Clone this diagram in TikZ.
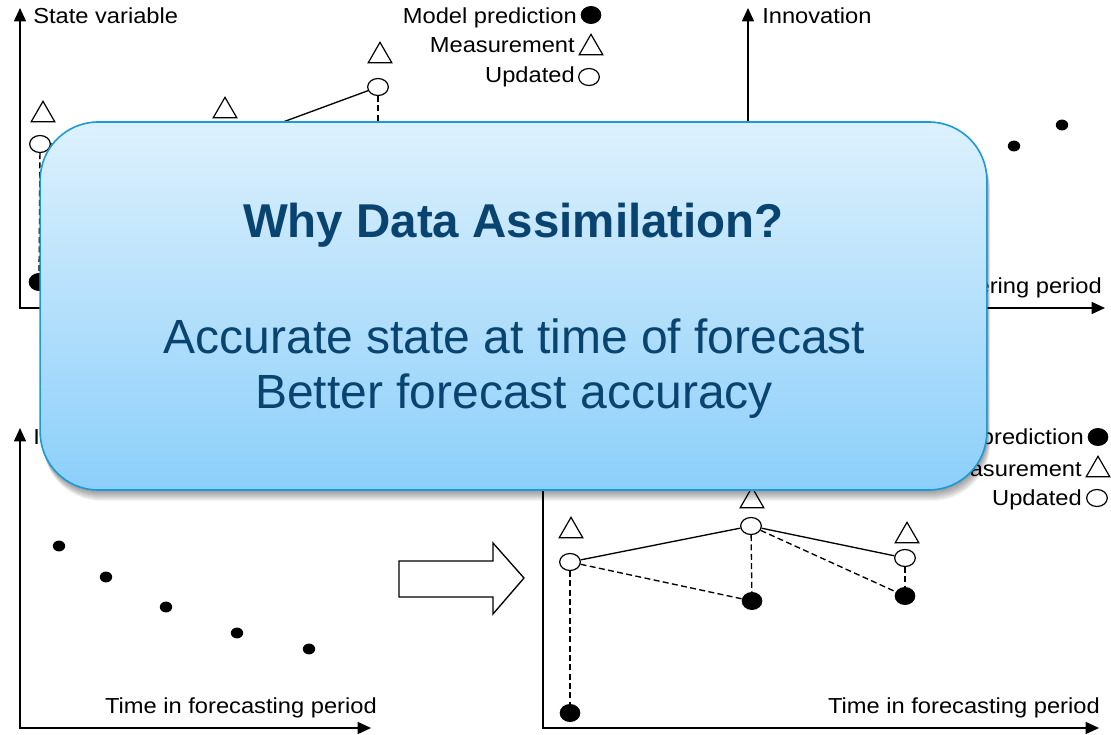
\documentclass[tikz,border=0pt]{standalone}
\usepackage{fontspec}
\setmainfont{Liberation Sans}
\newfontfamily\plotfont[FakeStretch=1.09]{Liberation Sans}
\usetikzlibrary{arrows.meta,shapes.geometric}

\definecolor{boxtop}{RGB}{221,241,253}
\definecolor{boxbot}{RGB}{140,207,250}
\definecolor{boxline}{RGB}{27,154,214}
\definecolor{boxtext}{RGB}{9,68,112}

\tikzset{
  axis/.style={line width=1.1pt, line join=miter, {Triangle[length=10pt,width=9pt]}-{Triangle[length=10pt,width=9pt]}},
  lbl/.style={font=\plotfont\fontsize{16.3pt}{19pt}\selectfont, inner sep=0pt},
  upd/.style={ellipse, draw, fill=white, line width=0.9pt, minimum width=15.5pt, minimum height=12.75pt, inner sep=0pt},
  pred/.style={ellipse, fill=black, minimum width=15.5pt, minimum height=13.5pt, inner sep=0pt},
  meas/.style={regular polygon, regular polygon sides=3, draw, line width=0.9pt, minimum size=20.5pt, inner sep=0pt},
  innov/.style={ellipse, fill=black, minimum width=9.3pt, minimum height=8.2pt, inner sep=0pt},
  link/.style={line width=1pt},
  gap/.style={line width=1pt, dash pattern=on 4.5pt off 2.5pt},
  boxshade/.style={fill=black, opacity=0.045, rounded corners=43.5pt},
  whybox/.style={rectangle, rounded corners=43.5pt, draw=boxline, line width=1.2pt,
    top color=boxtop, bottom color=boxbot, minimum width=710pt, minimum height=276pt},
  boxtitle/.style={font=\bfseries\fontsize{35.6pt}{42pt}\selectfont, text=boxtext, inner sep=0pt},
  boxbody/.style={font=\fontsize{36pt}{42pt}\selectfont, text=boxtext, inner sep=0pt},
}

\begin{document}
\begin{tikzpicture}[x=0.75pt,y=0.75pt,yscale=-1,xscale=1]
        \useasboundingbox (0,0) rectangle (1111,735);
        % top left: state variable in filtering period
        \coordinate (ya) at (20,8); \coordinate (oa) at (20,308); \coordinate (xa) at (600,308);
        \draw[axis] (ya) -- (oa) -- (xa);
        \node[lbl, anchor=base west] (ylabela) at (33,24) {State variable};
        \node[pred] (fa1) at (39,282) {}; \node[pred] (fa2) at (226,232) {}; \node[pred] (fa3) at (378,205) {};
        \node[upd] (ca1) at (40,144) {}; \node[upd] (ca2) at (226,143) {}; \node[upd] (ca3) at (378,87) {};
        \node[meas] (ta1) at (43,115) {}; \node[meas] (ta2) at (225,111) {}; \node[meas] (ta3) at (380,56) {};
        \draw[gap] (ca1) -- (fa1); \draw[gap] (ca2) -- (fa2); \draw[gap] (ca3) -- (fa3);
        \draw[gap] (ca1) -- (fa2); \draw[gap] (ca2) -- (fa3);
        \draw[link] (ca1) -- (ca2) -- (ca3);
        % legend
        \node[lbl, anchor=base east] (keypa) at (577,24) {Model prediction};
        \node[pred] (sympa) at (591,15) {};
        \node[lbl, anchor=base east] (keyma) at (575,53) {Measurement};
        \node[meas] (symma) at (591,48) {};
        \node[lbl, anchor=base east] (keyua) at (575,83) {Updated};
        \node[upd] (symua) at (589,77) {};

        % top right: innovation in filtering period
        \coordinate (yb) at (748,8); \coordinate (ob) at (748,308); \coordinate (xb) at (1105,308);
        \draw[axis] (yb) -- (ob) -- (xb);
        \node[lbl, anchor=base west] (ylabelb) at (762,24) {Innovation};
        \node[lbl, anchor=base east] (xlabelb) at (1102,293) {Time in filtering period};
        \node[innov] (ib1) at (1014,146) {}; \node[innov] (ib2) at (1062,125) {};

        % bottom left: innovation in forecasting period
        \coordinate (yc) at (20,428); \coordinate (oc) at (20,728); \coordinate (xc) at (371,728);
        \draw[axis] (yc) -- (oc) -- (xc);
        \node[lbl, anchor=base west] (ylabelc) at (33,444) {Innovation};
        \node[lbl, anchor=base east] (xlabelc) at (377,713) {Time in forecasting period};
        \node[innov] (ic1) at (59,546) {}; \node[innov] (ic2) at (106,577) {}; \node[innov] (ic3) at (166,607) {};
        \node[innov] (ic4) at (237,633) {}; \node[innov] (ic5) at (309,649) {};

        % block arrow
        \draw[line width=1pt, line join=miter] (399,561) -- (493,561) -- (493,543) -- (524,578) -- (493,614) -- (493,597) -- (399,597) -- cycle;

        % bottom right: state variable in forecasting period
        \coordinate (yd) at (543,428); \coordinate (od) at (543,728); \coordinate (xd) at (1099,728);
        \draw[axis] (yd) -- (od) -- (xd);
        \node[lbl, anchor=base east] (xlabeld) at (1100,713) {Time in forecasting period};
        \node[pred] (fd1) at (570,713) {}; \node[pred] (fd2) at (752,601) {}; \node[pred] (fd3) at (905,596) {};
        \node[upd] (cd1) at (570,562) {}; \node[upd] (cd2) at (751,526) {}; \node[upd] (cd3) at (905,558) {};
        \node[meas] (td1) at (571,531) {}; \node[meas] (td2) at (752,501) {}; \node[meas] (td3) at (907,536) {};
        \draw[gap] (cd1) -- (fd1); \draw[gap] (cd2) -- (fd2); \draw[gap] (cd3) -- (fd3);
        \draw[gap] (cd1) -- (fd2); \draw[gap] (cd2) -- (fd3);
        \draw[link] (cd1) -- (cd2) -- (cd3);
        % legend
        \node[lbl, anchor=base east] (keypd) at (1084,444) {Model prediction};
        \node[pred] (sympd) at (1098,437) {};
        \node[lbl, anchor=base east] (keymd) at (1082,476) {Measurement};
        \node[meas] (symmd) at (1098,470) {};
        \node[lbl, anchor=base east] (keyud) at (1082,505) {Updated};
        \node[upd] (symud) at (1097,498) {};

        % overlay with soft shadow
        \foreach \s in {1,...,11}
          \fill[boxshade] (40+0.3*\s,122+\s) rectangle (987+0.3*\s,490+\s);
        \node[whybox] (why) at (513.5,306) {};
        \node[boxtitle, anchor=base] (whytitle) at (513.5,237) {Why Data Assimilation?};
        \node[boxbody, anchor=base] (whyone) at (514.5,353) {Accurate state at time of forecast};
        \node[boxbody, anchor=base] (whytwo) at (514,408) {Better forecast accuracy};
\end{tikzpicture}
\end{document}
